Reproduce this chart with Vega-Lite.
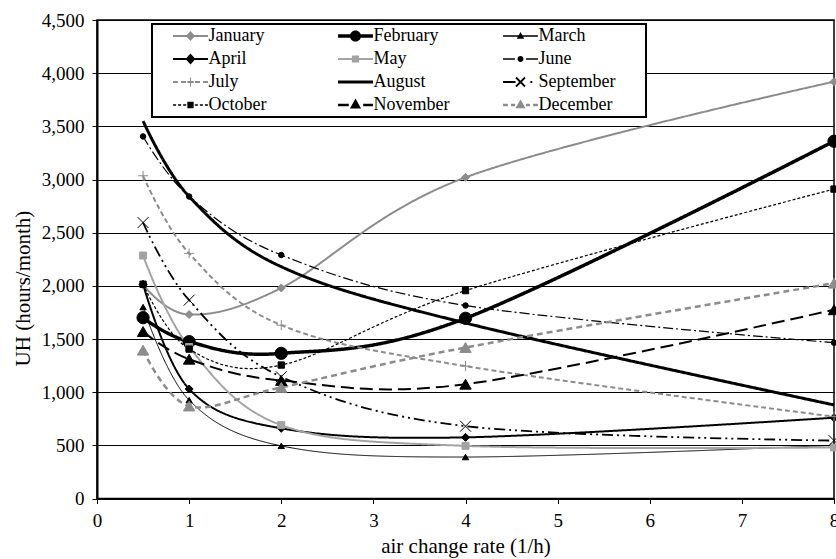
{
  "$schema": "https://vega.github.io/schema/vega-lite/v6.json",
  "width": 737,
  "height": 478.5,
  "autosize": {"type": "none"},
  "padding": {"left": 97, "top": 20, "right": 2, "bottom": 60.5},
  "background": "white",
  "config": {
    "font": "Liberation Serif",
    "view": {"stroke": "black", "strokeWidth": 1.5},
    "axis": {
      "domainColor": "black",
      "domainWidth": 2,
      "tickColor": "black",
      "tickWidth": 1,
      "tickSize": 5,
      "labelFont": "Liberation Serif",
      "labelFontSize": 19,
      "labelColor": "black",
      "titleFont": "Liberation Serif",
      "titleFontSize": 21,
      "titleFontWeight": "normal",
      "titleColor": "black"
    }
  },
  "data": {
    "values": [
      {"month": "January", "ach": 0.5, "uh": 2010},
      {"month": "January", "ach": 1, "uh": 1730},
      {"month": "January", "ach": 2, "uh": 1980},
      {"month": "January", "ach": 4, "uh": 3020},
      {"month": "January", "ach": 8, "uh": 3920},
      {"month": "February", "ach": 0.5, "uh": 1700},
      {"month": "February", "ach": 1, "uh": 1475},
      {"month": "February", "ach": 2, "uh": 1365},
      {"month": "February", "ach": 4, "uh": 1695},
      {"month": "February", "ach": 8, "uh": 3360},
      {"month": "March", "ach": 0.5, "uh": 1800},
      {"month": "March", "ach": 1, "uh": 925},
      {"month": "March", "ach": 2, "uh": 495},
      {"month": "March", "ach": 4, "uh": 390},
      {"month": "March", "ach": 8, "uh": 500},
      {"month": "April", "ach": 0.5, "uh": 2015},
      {"month": "April", "ach": 1, "uh": 1030},
      {"month": "April", "ach": 2, "uh": 660},
      {"month": "April", "ach": 4, "uh": 575},
      {"month": "April", "ach": 8, "uh": 760},
      {"month": "May", "ach": 0.5, "uh": 2285},
      {"month": "May", "ach": 1, "uh": 1425},
      {"month": "May", "ach": 2, "uh": 690},
      {"month": "May", "ach": 4, "uh": 495},
      {"month": "May", "ach": 8, "uh": 480},
      {"month": "June", "ach": 0.5, "uh": 3405},
      {"month": "June", "ach": 1, "uh": 2840},
      {"month": "June", "ach": 2, "uh": 2290},
      {"month": "June", "ach": 4, "uh": 1815},
      {"month": "June", "ach": 8, "uh": 1465},
      {"month": "July", "ach": 0.5, "uh": 3035},
      {"month": "July", "ach": 1, "uh": 2305},
      {"month": "July", "ach": 2, "uh": 1630},
      {"month": "July", "ach": 4, "uh": 1245},
      {"month": "July", "ach": 8, "uh": 770},
      {"month": "August", "ach": 0.5, "uh": 3550},
      {"month": "August", "ach": 1, "uh": 2840},
      {"month": "August", "ach": 2, "uh": 2180},
      {"month": "August", "ach": 4, "uh": 1650},
      {"month": "August", "ach": 8, "uh": 880},
      {"month": "September", "ach": 0.5, "uh": 2595},
      {"month": "September", "ach": 1, "uh": 1865},
      {"month": "September", "ach": 2, "uh": 1145},
      {"month": "September", "ach": 4, "uh": 680},
      {"month": "September", "ach": 8, "uh": 545},
      {"month": "October", "ach": 0.5, "uh": 2015},
      {"month": "October", "ach": 1, "uh": 1405},
      {"month": "October", "ach": 2, "uh": 1255},
      {"month": "October", "ach": 4, "uh": 1955},
      {"month": "October", "ach": 8, "uh": 2910},
      {"month": "November", "ach": 0.5, "uh": 1570},
      {"month": "November", "ach": 1, "uh": 1310},
      {"month": "November", "ach": 2, "uh": 1110},
      {"month": "November", "ach": 4, "uh": 1075},
      {"month": "November", "ach": 8, "uh": 1775},
      {"month": "December", "ach": 0.5, "uh": 1395},
      {"month": "December", "ach": 1, "uh": 870},
      {"month": "December", "ach": 2, "uh": 1045},
      {"month": "December", "ach": 4, "uh": 1420},
      {"month": "December", "ach": 8, "uh": 2025}
    ]
  },
  "encoding": {
    "x": {
      "field": "ach",
      "type": "quantitative",
      "scale": {"domain": [0, 8], "nice": false},
      "axis": {
        "title": "air change rate (1/h)",
        "values": [0, 1, 2, 3, 4, 5, 6, 7, 8],
        "grid": false,
        "labelPadding": 8,
        "labelFlush": false,
        "labelOverlap": false,
        "titlePadding": 5
      }
    },
    "y": {
      "field": "uh",
      "type": "quantitative",
      "scale": {"domain": [0, 4500], "nice": false},
      "axis": {
        "title": "UH (hours/month)",
        "values": [0, 500, 1000, 1500, 2000, 2500, 3000, 3500, 4000, 4500],
        "format": ",.0f",
        "grid": true,
        "gridColor": "black",
        "gridWidth": 1,
        "labelPadding": 8,
        "titleX": -74,
        "titleY": 268,
        "titleBaseline": "middle"
      }
    },
    "color": {
      "field": "month",
      "type": "nominal",
      "sort": null,
      "scale": {
        "domain": ["January", "February", "March", "April", "May", "June", "July", "August", "September", "October", "November", "December"],
        "range": ["#8c8c8c", "black", "black", "black", "#a3a3a3", "black", "#8c8c8c", "black", "black", "black", "black", "#8c8c8c"]
      },
      "legend": {
        "title": null,
        "orient": "none",
        "direction": "horizontal",
        "legendX": 55,
        "legendY": 4,
        "columns": 3,
        "gridAlign": "all",
        "columnPadding": 7,
        "rowPadding": 5,
        "padding": 3,
        "fillColor": "white",
        "strokeColor": "black",
        "symbolSize": 324,
        "symbolOffset": 26.5,
        "labelOffset": 9,
        "labelFont": "Liberation Serif",
        "labelFontSize": 18,
        "labelColor": "black",
        "labelLimit": 200,
        "encode": {
          "legend": {"update": {"strokeWidth": {"value": 2}}},
          "symbols": {
            "update": {
              "shape": {"signal": "{'January': 'M-1.94,-0.11H1.94V0.11H-1.94ZM0,-0.55L0.5,0L0,0.55L-0.5,0ZM13.6,0', 'February': 'M-1.94,-0.19H1.94V0.19H-1.94ZM-0.62,0A0.62,0.62 0 1,1 0.62,0A0.62,0.62 0 1,1 -0.62,0ZM13.6,0', 'March': 'M-1.94,-0.07H1.94V0.07H-1.94ZM0,-0.45L0.42,0.3L-0.42,0.3ZM13.6,0', 'April': 'M-1.94,-0.11H1.94V0.11H-1.94ZM0,-0.6L0.55,0L0,0.6L-0.55,0ZM13.6,0', 'May': 'M-1.94,-0.11H1.94V0.11H-1.94ZM-0.4,-0.4H0.4V0.4H-0.4ZM13.6,0', 'June': 'M-1.94,-0.07H-0.62V0.07H-1.94ZM0.62,-0.07H1.94V0.07H0.62ZM-0.33,0A0.33,0.33 0 1,1 0.33,0A0.33,0.33 0 1,1 -0.33,0ZM13.6,0', 'July': 'M-1.94,-0.11H-1.4V0.11H-1.94ZM-1.05,-0.11H-0.5V0.11H-1.05ZM-0.35,-0.11H0.35V0.11H-0.35ZM0.5,-0.11H1.05V0.11H0.5ZM1.4,-0.11H1.94V0.11H1.4ZM-0.06,-0.5H0.06V0.5H-0.06ZM13.6,0', 'August': 'M-1.94,-0.17H1.94V0.17H-1.94ZM13.6,0', 'September': 'M-1.94,-0.1H-0.55V0.1H-1.94ZM-0.57,-0.43L-0.43,-0.57L0.57,0.43L0.43,0.57ZM-0.57,0.43L0.43,-0.57L0.57,-0.43L-0.43,0.57ZM1.1,-0.1H1.3V0.1H1.1ZM13.6,0', 'October': 'M-1.94,-0.07H-1.6V0.07H-1.94ZM-1.38,-0.07H-1.04V0.07H-1.38ZM-0.82,-0.07H-0.48V0.07H-0.82ZM-0.35,-0.35H0.35V0.35H-0.35ZM0.48,-0.07H0.82V0.07H0.48ZM1.04,-0.07H1.38V0.07H1.04ZM1.6,-0.07H1.94V0.07H1.6ZM13.6,0', 'November': 'M-1.94,-0.14H-0.75V0.14H-1.94ZM0,-0.72L0.62,0.38L-0.62,0.38ZM0.85,-0.14H1.94V0.14H0.85ZM13.6,0', 'December': 'M-1.94,-0.14H-1.4V0.14H-1.94ZM-1.05,-0.14H-0.6V0.14H-1.05ZM0,-0.62L0.56,0.36L-0.56,0.36ZM0.6,-0.14H1.05V0.14H0.6ZM1.4,-0.14H1.94V0.14H1.4ZM13.6,0'}[datum.value]"},
              "fill": {"scale": "color", "field": "value"},
              "stroke": {"value": "transparent"},
              "strokeWidth": {"value": 0},
              "size": {"value": 324},
              "opacity": {"value": 1},
              "fillOpacity": {"value": 1}
            }
          }
        }
      }
    }
  },
  "layer": [
    {
      "mark": {"type": "line", "interpolate": "cardinal", "tension": 0},
      "encoding": {
        "strokeDash": {
          "field": "month",
          "type": "nominal",
          "sort": null,
          "scale": {
            "domain": ["January", "February", "March", "April", "May", "June", "July", "September", "October", "November", "December", "August"],
            "range": [[1, 0], [1, 0], [1, 0], [1, 0], [1, 0], [10, 3, 2, 3], [5, 3], [11, 4, 2, 4, 2, 4], [3, 2], [13, 6], [6, 4], [1, 0]]
          },
          "legend": null
        },
        "strokeWidth": {
          "field": "month",
          "type": "nominal",
          "sort": null,
          "scale": {
            "type": "ordinal",
            "domain": ["January", "February", "March", "April", "May", "June", "July", "September", "October", "November", "December", "August"],
            "range": [2, 3.5, 1, 2, 2, 1.2, 2, 1.8, 1.2, 2, 2.5, 3]
          },
          "legend": null
        }
      }
    },
    {
      "transform": [{"filter": "datum.month !== 'August'"}],
      "mark": {"type": "point", "filled": true, "opacity": 1, "strokeWidth": 1},
      "encoding": {
        "shape": {
          "field": "month",
          "type": "nominal",
          "sort": null,
          "scale": {
            "domain": ["January", "February", "March", "April", "May", "June", "July", "September", "October", "November", "December"],
            "range": ["diamond", "circle", "triangle-up", "diamond", "square", "circle", "M-1,0H1M0,-1V1", "M-1,-1L1,1M-1,1L1,-1", "square", "triangle-up", "triangle-up"]
          },
          "legend": null
        },
        "size": {
          "field": "month",
          "type": "nominal",
          "sort": null,
          "scale": {
            "type": "ordinal",
            "domain": ["January", "February", "March", "April", "May", "June", "July", "September", "October", "November", "December"],
            "range": [64, 150, 40, 64, 49, 30, 100, 120, 40, 130, 130]
          },
          "legend": null
        },
        "stroke": {
          "field": "month",
          "type": "nominal",
          "sort": null,
          "scale": {
            "domain": ["January", "February", "March", "April", "May", "June", "July", "September", "October", "November", "December"],
            "range": ["#8c8c8c", "black", "black", "black", "#a3a3a3", "black", "#8c8c8c", "black", "black", "black", "#8c8c8c"]
          },
          "legend": null
        }
      }
    }
  ]
}
